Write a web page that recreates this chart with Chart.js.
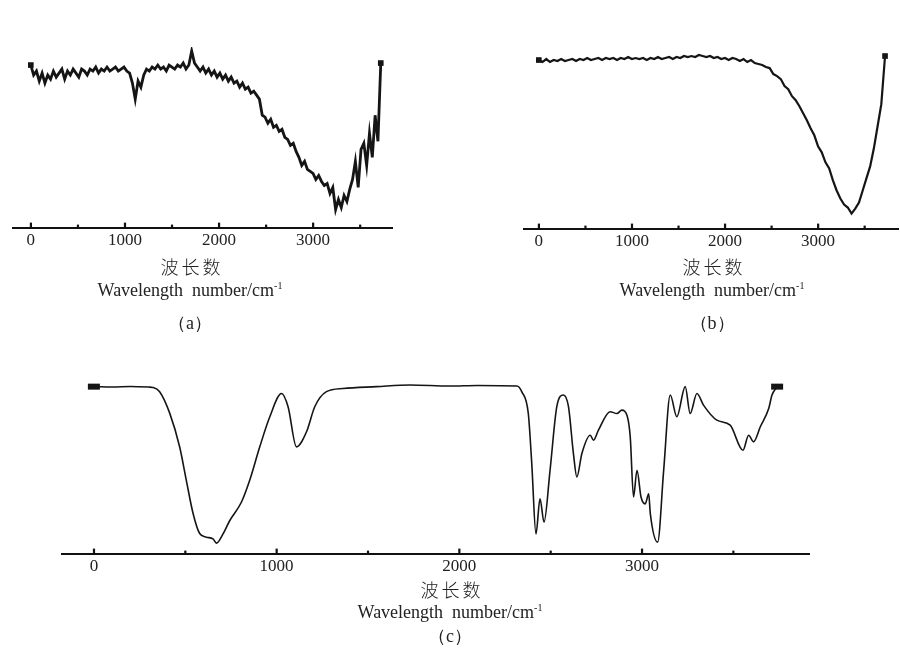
<!DOCTYPE html>
<html>
<head>
<meta charset="utf-8">
<script src="https://cdn.jsdelivr.net/npm/chart.js@4.4.0/dist/chart.umd.min.js"></script>
<style>
  body { margin: 0; background: #fff; }
  #page { position: relative; width: 900px; height: 650px; overflow: hidden; background: #fff; }
  .box { position: absolute; }
  .lbl { position: absolute; width: 320px; text-align: center; color: #222;
         font-family: "Liberation Serif", "DejaVu Serif", serif; white-space: pre; }
  .cn { font-family: "Noto Sans CJK SC", sans-serif; font-size: 18px; letter-spacing: 3px; font-weight: 300; }
  .en { font-size: 18px; }
  sup { font-size: 10px; }
</style>
</head>
<body>
<div id="page">
  <div class="box" style="left:12px; top:47px;"><canvas id="chartA" width="381" height="207"></canvas></div>
  <div class="box" style="left:523px; top:48px;"><canvas id="chartB" width="376" height="207"></canvas></div>
  <div class="box" style="left:61px; top:373px;"><canvas id="chartC" width="749" height="207"></canvas></div>

  <div class="lbl cn" style="left:32px; top:253px;">波长数</div>
  <div class="lbl en" style="left:30px; top:280px;">Wavelength  number/cm<sup>-1</sup></div>
  <div class="lbl en" style="left:30px; top:311px;">（a）</div>

  <div class="lbl cn" style="left:554px; top:253px;">波长数</div>
  <div class="lbl en" style="left:552px; top:280px;">Wavelength  number/cm<sup>-1</sup></div>
  <div class="lbl en" style="left:552px; top:311px;">（b）</div>

  <div class="lbl cn" style="left:292px; top:576px;">波长数</div>
  <div class="lbl en" style="left:290px; top:602px;">Wavelength  number/cm<sup>-1</sup></div>
  <div class="lbl en" style="left:290px; top:624px;">（c）</div>
</div>

<script>
// (a) noisy spectrum, sampled every 30 cm-1 from 0
const stepA = 30;
const valuesA = [
  81, 76, 78, 73, 77, 72, 76, 74, 78, 75,
  77, 79, 74, 78, 76, 79, 77, 75, 79, 78,
  76, 79, 78, 80, 77, 79, 78, 80, 78, 79,
  80, 78, 79, 80, 78, 77, 72, 64, 73, 70,
  76, 79, 78, 80, 79, 81, 79, 80, 78, 81,
  80, 79, 81, 80, 82, 79, 81, 88, 82, 80,
  78, 80, 77, 79, 76, 78, 75, 77, 74, 76,
  73, 75, 72, 73, 70, 72, 69, 70, 67, 68,
  66, 64, 56, 55, 52, 54, 50, 51, 48, 49,
  45, 44, 41, 42, 38, 35, 31, 33, 29, 28,
  27, 24, 26, 23, 21, 22, 17, 20, 9, 14,
  10, 16, 13, 19, 24, 33, 20, 39, 42, 31,
  47, 35, 56, 43, 82
];

// (b) spectrum, sampled every 40 cm-1 from 0
const stepB = 40;
const valuesB = [
  84, 83, 84.5, 83, 84, 83.5, 84.5, 83.5, 84, 84.5,
  83.5, 84.5, 84, 85, 84, 84.5, 85, 84, 85, 84.5,
  85, 84, 85, 84.5, 85.5, 84.5, 85, 84.5, 85, 84,
  85, 84.5, 85.5, 84.5, 85, 85.5, 84.5, 85.5, 85, 86,
  85.5, 86, 85.5, 86.5, 86, 85.5, 86, 85, 85.5, 84.5,
  85, 84, 85, 84.5, 83.5, 84.5, 83, 84, 82.5, 82,
  81.5, 80.5, 80, 77, 76, 74.5, 71, 69.5, 66, 64,
  61, 57.5, 54, 50, 46.5, 41, 38, 33, 30, 24,
  19, 15, 12, 10.5, 7.5, 10, 13, 19, 25, 31,
  40, 51, 62, 86
];

// (c) spectrum, key readings
const waveC = [
  0, 100, 200, 300, 323, 360, 415, 470, 506, 543, 579, 616, 652, 671, 707, 744,
  808, 853, 908, 963, 1027, 1063, 1109, 1164, 1209, 1273, 1364, 1547, 1730, 1948,
  2100, 2315, 2342, 2378, 2397, 2420, 2442, 2464, 2497, 2534, 2570, 2598, 2625,
  2644, 2671, 2717, 2735, 2762, 2826, 2863, 2890, 2918, 2936, 2954, 2973, 2995,
  3018, 3037, 3046, 3086, 3119, 3155, 3191, 3237, 3264, 3301, 3337, 3410, 3483,
  3553, 3584, 3611, 3648, 3694, 3712, 3740
];
const valuesC = [
  83.2, 83, 83.3, 83, 82.8, 80.7, 70, 53, 36.5, 20, 10, 8.2, 7.3, 5.2, 9.8, 16.5,
  25.7, 36.5, 53.2, 68.2, 79.8, 73.2, 53.2, 60.7, 73.2, 80.7, 82.3, 83.2, 84, 83.5,
  83.8, 83.5, 80.7, 69.8, 44.8, 9.8, 27.3, 15.7, 41.5, 73.2, 79, 73.2, 49.8,
  38.2, 49.8, 59, 56.5, 61.5, 70.7, 69.8, 71.5, 69, 58.2, 28.2, 41.5, 28.2,
  24.8, 29.8, 19.8, 5.7, 41.5, 79, 68.2, 83.2, 69.8, 79.8, 74, 66.5, 64,
  51.5, 59, 55.7, 63.2, 72.3, 79, 83.2
];

const tickValues = [0, 500, 1000, 1500, 2000, 2500, 3000, 3500];
const tickLabels = ['0', '', '1000', '', '2000', '', '3000', ''];

// small upward tick marks on the axis line
const tickMarks = {
  id: 'tickMarks',
  afterDraw(chart) {
    const x = chart.scales.x;
    const ctx = chart.ctx;
    ctx.save();
    ctx.fillStyle = '#111';
    tickValues.forEach((v, i) => {
      const px = x.getPixelForValue(v);
      const h = tickLabels[i] ? 5 : 3;
      ctx.fillRect(px - 1, x.top - h, 2.2, h);
    });
    ctx.restore();
  }
};

function crearGrafico(id, puntos, xMin, xMax, ancho, suave, marca) {
  const ctx = document.getElementById(id).getContext('2d');
  return new Chart(ctx, {
    type: 'line',
    data: {
      datasets: [{
        data: puntos,
        borderColor: '#151515',
        borderWidth: ancho,
        tension: suave ? 0.4 : 0,
        cubicInterpolationMode: suave ? 'monotone' : 'default',
        pointStyle: marca.estilo,
        pointRadius: c => (c.dataIndex === 0 || c.dataIndex === puntos.length - 1) ? marca.radio : 0,
        pointBackgroundColor: '#151515',
        pointBorderColor: '#151515',
        pointBorderWidth: marca.borde,
        clip: false
      }]
    },
    options: {
      responsive: false,
      animation: false,
      layout: { padding: 0, autoPadding: false },
      plugins: { legend: { display: false }, tooltip: { enabled: false } },
      scales: {
        x: {
          type: 'linear',
          min: xMin,
          max: xMax,
          afterBuildTicks: axis => { axis.ticks = tickValues.map(v => ({ value: v })); },
          grid: { display: false, drawTicks: false },
          border: { display: true, color: '#111', width: 2 },
          ticks: {
            autoSkip: false,
            maxRotation: 0,
            padding: 3,
            color: '#222',
            font: { family: "'Liberation Serif', 'DejaVu Serif', serif", size: 17 },
            callback: (v, i) => tickLabels[i]
          }
        },
        y: { display: false, min: 0, max: 90 }
      }
    },
    plugins: [tickMarks]
  });
}

const puntosA = valuesA.map((v, i) => ({ x: i * stepA, y: v }));
const puntosB = valuesB.map((v, i) => ({ x: i * stepB, y: v }));
const puntosC = valuesC.map((v, i) => ({ x: waveC[i], y: v }));

crearGrafico('chartA', puntosA, -200, 3850, 2.8, false, { estilo: 'rect', radio: 4, borde: 0 });
crearGrafico('chartB', puntosB, -170, 3870, 2.2, false, { estilo: 'rect', radio: 4, borde: 0 });
crearGrafico('chartC', puntosC, -180, 3920, 1.6, true, { estilo: 'line', radio: 6, borde: 6 });
</script>
</body>
</html>
